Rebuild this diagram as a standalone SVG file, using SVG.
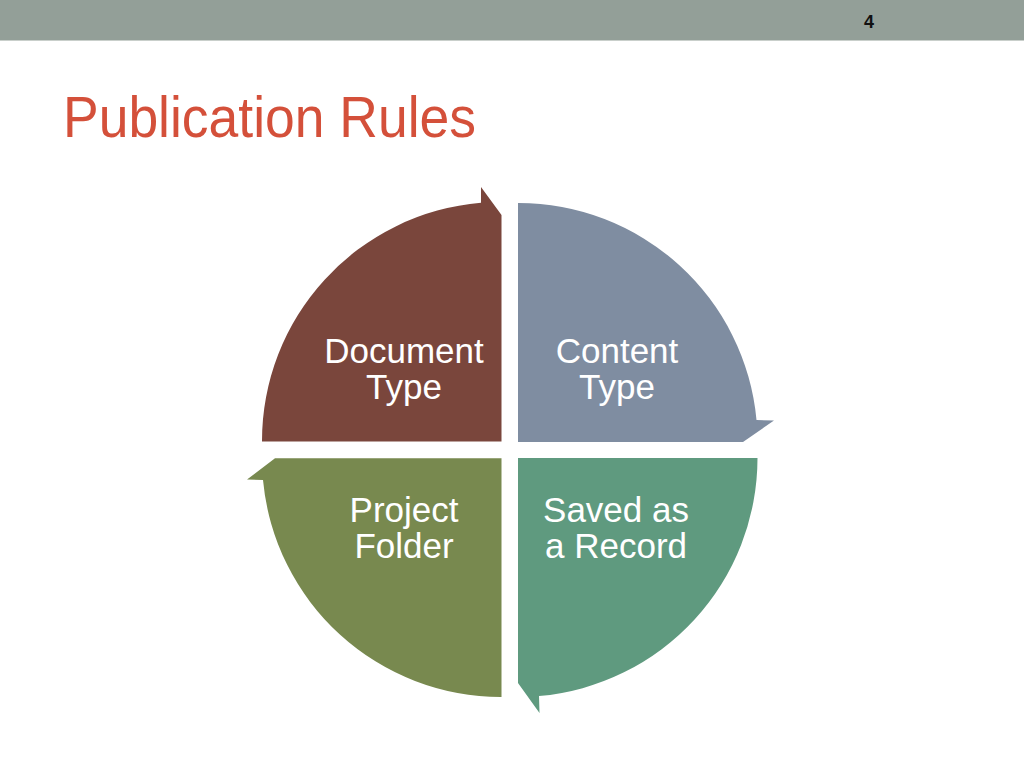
<svg xmlns="http://www.w3.org/2000/svg" width="1024" height="768" viewBox="0 0 1024 768">
  <style>
    .lbl { font-family: "Liberation Sans", Arial, sans-serif; font-size: 35px; fill: #FFFFFF; text-anchor: middle; }
    .title { font-family: "Liberation Sans", Arial, sans-serif; font-size: 58px; fill: #D4503A; }
    .num { font-family: "Liberation Sans", Arial, sans-serif; font-size: 18px; font-weight: bold; fill: #111111; text-anchor: middle; }
  </style>
  <rect x="0" y="0" width="1024" height="768" fill="#FFFFFF"/>
  <rect id="header" x="0" y="0" width="1024" height="40.5" fill="#939F98"/>
  <text class="num" x="869" y="27.7" textLength="10" lengthAdjust="spacingAndGlyphs">4</text>
  <text class="title" x="63" y="136.7" textLength="413" lengthAdjust="spacingAndGlyphs">Publication Rules</text>

  <g id="node-document-type">
    <path d="M 262,441.5 A 239 239 0 0 1 481,202.8 L 481,187 L 501.5,215 L 501.5,441.5 Z" fill="#7A463C"/>
    <text class="lbl" x="404" y="363">Document</text>
    <text class="lbl" x="404" y="399">Type</text>
  </g>
  <g id="node-content-type">
    <path d="M 518,203 A 239 239 0 0 1 756.5,420 L 774,420.5 L 743,442 L 518,442 Z" fill="#7F8DA1"/>
    <text class="lbl" x="617" y="363">Content</text>
    <text class="lbl" x="617" y="399">Type</text>
  </g>
  <g id="node-saved-as-record">
    <path d="M 757.5,458 A 239 239 0 0 1 539,696 L 539.5,713 L 518,683 L 518,458 Z" fill="#5F9A7F"/>
    <text class="lbl" x="616" y="522">Saved as</text>
    <text class="lbl" x="616" y="558">a Record</text>
  </g>
  <g id="node-project-folder">
    <path d="M 501.5,697 A 239 239 0 0 1 263,480 L 247,479.5 L 275,458.3 L 501.5,458.3 Z" fill="#78894F"/>
    <text class="lbl" x="404" y="522">Project</text>
    <text class="lbl" x="404" y="558">Folder</text>
  </g>
  <g id="connectors"/>
</svg>
